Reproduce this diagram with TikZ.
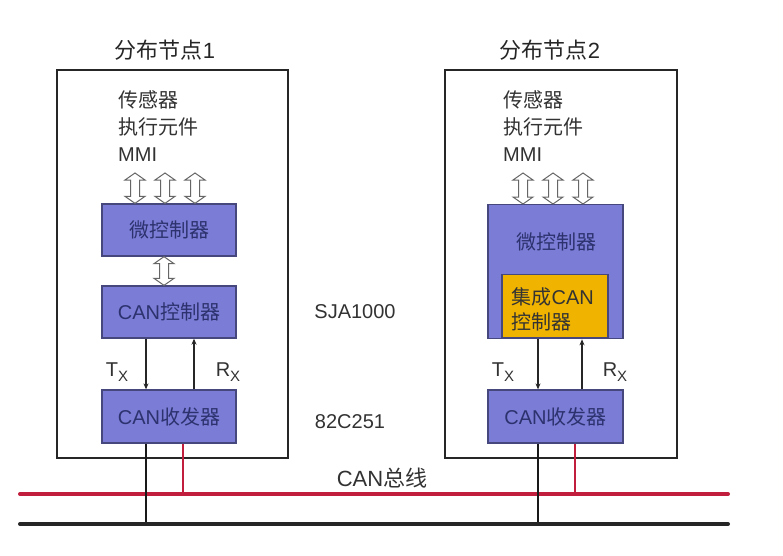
\documentclass[tikz,border=0pt]{standalone}
\usepackage{fontspec}
\setmainfont{Liberation Sans}
\newfontfamily\cjk{Noto Sans CJK SC}
\usetikzlibrary{calc,arrows.meta}
\definecolor{boxblue}{RGB}{122,124,214}
\definecolor{boxborder}{RGB}{70,72,125}
\definecolor{boxtext}{RGB}{45,50,110}
\definecolor{chipyellow}{RGB}{240,180,0}
\definecolor{busred}{RGB}{192,30,60}
\definecolor{lbl}{RGB}{50,50,50}
\newcommand\hollowarrow[2]{%
  \draw[hollow] let \p1=(#1), \p2=(#2) in
    (\x1,\y1) -- (\x1+10pt,\y1+7pt) -- (\x1+4.5pt,\y1+7pt) -- (\x1+4.5pt,\y2-7pt)
    -- (\x1+10pt,\y2-7pt) -- (\x1,\y2) -- (\x1-10pt,\y2-7pt) -- (\x1-4.5pt,\y2-7pt)
    -- (\x1-4.5pt,\y1+7pt) -- (\x1-10pt,\y1+7pt) -- cycle;}
\newcommand\subx[2]{#1\raisebox{-0.4ex}{\fontsize{15}{15}\selectfont #2}}
\begin{document}
\begin{tikzpicture}[x=1pt,y=-1pt,
  outer/.style={draw=black!85, line width=2pt, fill=white, inner sep=0},
  chip/.style={draw=boxborder, line width=1.3pt, fill=boxblue, inner sep=0,
    text=boxtext, font=\fontsize{20}{24}\selectfont},
  ychip/.style={draw=boxborder, line width=1.3pt, fill=chipyellow, inner sep=0,
    text=black!80, font=\fontsize{20}{25}\selectfont, align=left},
  hollow/.style={draw=black!60, line width=1pt, fill=white},
  lab/.style={text=lbl, font=\fontsize{20}{27}\selectfont, inner sep=0},
  title/.style={text=black!85, font=\fontsize{22}{26}\selectfont, inner sep=0},
  sig/.style={draw=black!85, line width=1.2pt, -{Stealth[length=6pt,width=5pt]}},
  drop/.style={draw=black!90, line width=2.5pt},
  rdrop/.style={draw=busred, line width=2.2pt},
  bus/.style={line width=4pt, line cap=round}]
\useasboundingbox (0,0) rectangle (783,555);

% ---- outer node boxes
\node[outer, minimum width=231, minimum height=388] (n1) at (172.5,264) {};
\node[outer, minimum width=232, minimum height=388] (n2) at (561,264) {};
\node[title] (t1) at (165,50) {{\cjk 分布节点}1};
\node[title] (t2) at (550,50) {{\cjk 分布节点}2};

% ---- peripheral labels
\node[lab, anchor=north west, align=left] (p1) at (118,90) {{\cjk 传感器}\\{\cjk 执行元件}\\MMI};
\node[lab, anchor=north west, align=left] (p2) at (503,90) {{\cjk 传感器}\\{\cjk 执行元件}\\MMI};

% ---- node 1 chips
\node[chip, minimum width=134, minimum height=52] (mc1) at (169,230) {\cjk 微控制器};
\node[chip, minimum width=134, minimum height=52] (cc1) at (169,312) {CAN{\cjk 控制器}};
\node[chip, minimum width=134, minimum height=53] (tr1) at (169,416.5) {CAN{\cjk 收发器}};

% ---- node 2 chips
\node[chip, minimum width=135, minimum height=134, anchor=north, inner sep=0] (mc2) at (555.5,204) {};
\node[chip, fill=none, draw=none, inner sep=0] (mc2t) at (556,242) {\cjk 微控制器};
\node[ychip, minimum width=106, minimum height=63, anchor=south] (yc2) at (555,338) {};
\node[ychip, draw=none, fill=none, anchor=west] (yc2t) at (511,309) {{\cjk 集成}CAN\\{\cjk 控制器}};
\node[chip, minimum width=135, minimum height=53] (tr2) at (555.5,416.5) {CAN{\cjk 收发器}};

% ---- side labels
\node[lab] (sja) at (355,312) {SJA1000};
\node[lab] (pca) at (350,422) {82C251};
\node[lab] (bl) at (382,478) {\fontsize{22}{26}\selectfont CAN{\cjk 总线}};
\node[lab] (tx1) at (117,372) {\subx{T}{X}};
\node[lab] (rx1) at (228,372) {\subx{R}{X}};
\node[lab] (tx2) at (503,372) {\subx{T}{X}};
\node[lab] (rx2) at (615,372) {\subx{R}{X}};

% ---- hollow double arrows
\coordinate (a11) at (135,173);
\coordinate (a12) at (165,173);
\coordinate (a13) at (195,173);
\coordinate (a21) at (523,173);
\coordinate (a22) at (553,173);
\coordinate (a23) at (583,173);
\coordinate (am1) at (164,0);
\hollowarrow{mc1.north -| a11}{a11}
\hollowarrow{mc1.north -| a12}{a12}
\hollowarrow{mc1.north -| a13}{a13}
\hollowarrow{mc2.north -| a21}{a21}
\hollowarrow{mc2.north -| a22}{a22}
\hollowarrow{mc2.north -| a23}{a23}
\hollowarrow{cc1.north -| am1}{mc1.south -| am1}

% ---- Tx / Rx lines
\coordinate (x1t) at (146,0);
\coordinate (x1r) at (194,0);
\coordinate (x2t) at (538,0);
\coordinate (x2r) at (582,0);
\draw[sig] (cc1.south -| x1t) -- (tr1.north -| x1t);
\draw[sig] (tr1.north -| x1r) -- (cc1.south -| x1r);
\draw[sig] (mc2.south -| x2t) -- (tr2.north -| x2t);
\draw[sig] (tr2.north -| x2r) -- (mc2.south -| x2r);

% ---- bus
\coordinate (rbw) at (20,494);
\coordinate (rbe) at (728,494);
\coordinate (bbw) at (20,524);
\coordinate (bbe) at (728,524);
\coordinate (d1b) at (146,0);
\coordinate (d1r) at (183,0);
\coordinate (d2b) at (538,0);
\coordinate (d2r) at (575,0);
\draw[rdrop] (tr1.south -| d1r) -- (rbw -| d1r);
\draw[rdrop] (tr2.south -| d2r) -- (rbw -| d2r);
\draw[bus, busred] (rbw) -- (rbe);
\draw[drop] (tr1.south -| d1b) -- (bbw -| d1b);
\draw[drop] (tr2.south -| d2b) -- (bbw -| d2b);
\draw[bus, black!85] (bbw) -- (bbe);
\end{tikzpicture}
\end{document}
